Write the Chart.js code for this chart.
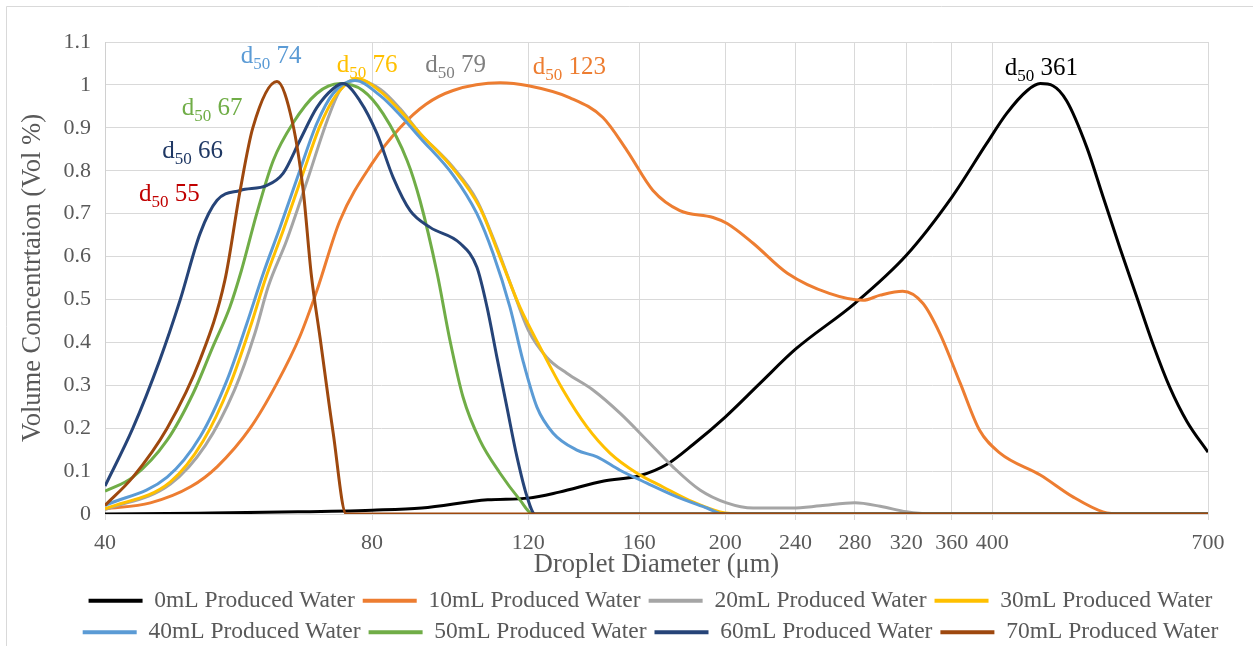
<!DOCTYPE html>
<html>
<head>
<meta charset="utf-8">
<script src="https://cdn.jsdelivr.net/npm/chart.js@4.4.1/dist/chart.umd.min.js"></script>
<style>
  html, body { margin: 0; padding: 0; background: #fff; }
</style>
</head>
<body>
<canvas id="chart" width="1253" height="646"></canvas>
<script>
// Fuente tipo Times (como en Excel)
const SERIF = '"Liberation Serif", "Times New Roman", serif';

// Series: [diametro (um), concentracion (Vol %)]
const seriesNames = ['0mL Produced Water', '10mL Produced Water', '20mL Produced Water', '30mL Produced Water',
                     '40mL Produced Water', '50mL Produced Water', '60mL Produced Water', '70mL Produced Water'];
const seriesColors = ['#000000', '#ED7D31', '#A5A5A5', '#FFC000', '#5B9BD5', '#70AD47', '#264478', '#9E480E'];

const water0 = [[40,0],[51,0.002],[66,0.005],[80,0.009],[91,0.014],[108,0.033],[120,0.037],[130,0.051],[146,0.077],
  [160,0.089],[172,0.116],[184,0.162],[200,0.226],[219,0.305],[240,0.384],[280,0.491],[320,0.603],[360,0.738],
  [394,0.863],[415,0.933],[438,0.987],[453,1.003],[468,0.998],[485,0.963],[511,0.855],[533,0.74],[557,0.62],
  [582,0.505],[607,0.395],[634,0.295],[663,0.215],[700,0.144]];
const water10 = [[40,0.012],[45,0.026],[50,0.064],[53.5,0.11],[58.3,0.2],[62.5,0.305],[66.3,0.413],[69.3,0.52],
  [73.6,0.684],[80,0.817],[86,0.9],[92,0.955],[98.7,0.987],[111.5,1.005],[120,0.998],[133.7,0.97],[145.6,0.924],
  [155,0.847],[165.8,0.754],[177.8,0.707],[193.8,0.691],[201,0.677],[215,0.631],[235,0.561],[262,0.514],[286,0.498],
  [299,0.51],[317,0.519],[334,0.491],[349,0.421],[368,0.305],[387,0.195],[408,0.142],[453,0.091],[493,0.04],
  [533,0.005],[560,0],[700,0]];
const water20 = [[40,0.01],[47.4,0.07],[51.9,0.16],[56,0.29],[59,0.42],[61.1,0.53],[64.1,0.638],[67.6,0.777],
  [71.2,0.917],[73.6,0.987],[76.9,1.012],[81.7,0.99],[86,0.945],[90.6,0.887],[98.7,0.808],[105,0.731],[110.6,0.621],
  [115.3,0.521],[120,0.428],[125.9,0.365],[132.6,0.328],[141.9,0.289],[152.2,0.235],[163.2,0.172],[174.6,0.11],
  [187.3,0.056],[200.7,0.026],[215,0.014],[238,0.014],[256,0.019],[280,0.026],[299,0.018],[320,0.005],[340,0],[700,0]];
const water30 = [[40,0.012],[47.4,0.075],[51.6,0.17],[55.3,0.3],[58.3,0.435],[60.7,0.55],[63.5,0.66],[66.9,0.795],
  [69.9,0.905],[72.8,0.975],[76.9,1.015],[81.7,0.985],[86,0.94],[90.6,0.887],[98.7,0.805],[105.8,0.714],[111.5,0.598],
  [117.4,0.482],[123.7,0.389],[131.3,0.289],[139.7,0.203],[148.3,0.142],[159.1,0.095],[170.2,0.063],[183.9,0.028],
  [197.3,0.005],[210,0],[700,0]];
const water40 = [[40,0.02],[47,0.086],[51.2,0.18],[54.9,0.312],[57.8,0.444],[60.3,0.56],[63,0.668],[66.3,0.8],
  [69.3,0.91],[72.3,0.98],[76.5,1.01],[81.7,0.975],[86,0.93],[90.6,0.877],[98.7,0.79],[105,0.7],[109.5,0.607],
  [114.4,0.482],[118.3,0.358],[122.7,0.249],[127.9,0.189],[136.1,0.149],[143.4,0.133],[152.2,0.102],[163.2,0.072],
  [176.5,0.04],[190.7,0.014],[198.8,0],[220,0],[700,0]];
const water50 = [[40,0.053],[43,0.086],[47,0.172],[50.3,0.282],[52.9,0.389],[55.3,0.482],[57,0.568],[59.3,0.7],
  [61.9,0.824],[65.1,0.91],[69.3,0.98],[73.6,1.003],[78.1,0.987],[82.3,0.933],[87.6,0.824],[90.6,0.73],[94.7,0.561],
  [97.9,0.405],[101.3,0.272],[105.8,0.172],[111.5,0.095],[117.4,0.033],[121.4,0],[140,0],[700,0]];
const water60 = [[40,0.065],[43,0.2],[46.1,0.358],[48.6,0.498],[51.2,0.654],[53.5,0.731],[56.8,0.754],[60.9,0.766],
  [63.5,0.794],[66.3,0.87],[69.3,0.947],[72.3,0.991],[74.2,1.003],[77.5,0.963],[81,0.887],[84.5,0.784],[88.3,0.707],
  [93,0.668],[100.5,0.631],[105,0.575],[107.8,0.482],[110.6,0.365],[113.5,0.249],[116.5,0.133],[119.6,0.04],
  [122.1,0],[140,0],[700,0]];
const water70 = [[40,0.02],[43,0.086],[47,0.2],[51.2,0.36],[54.6,0.545],[56.8,0.754],[58.7,0.9],[62.5,1.008],
  [65.1,0.91],[66.9,0.754],[68.3,0.56],[69.9,0.41],[72.3,0.19],[74.8,0],[86,0],[700,0]];

const allSeries = [water0, water10, water20, water30, water40, water50, water60, water70];

// Marcas del eje X
const xTicks = [40, 80, 120, 160, 200, 240, 280, 320, 360, 400, 700];

// Etiquetas d50: valor, color, ancla [diametro, concentracion]
const d50Values = ['74', '76', '79', '123', '361', '67', '66', '55'];
const d50Colors = ['#5B9BD5', '#FFC000', '#7F7F7F', '#ED7D31', '#000000', '#70AD47', '#1F3864', '#C00000'];
const d50Anchors = [[56.9,1.05],[73.0,1.029],[91.8,1.029],[121.4,1.026],[413,1.022],[48.8,0.931],[46.4,0.83],[43.7,0.729]];

// Fondo blanco y marco gris
const framePlugin = {
    id: 'frame',
    beforeDraw(chart) {
        const ctx = chart.ctx;
        ctx.save();
        ctx.fillStyle = '#ffffff';
        ctx.fillRect(0, 0, chart.width, chart.height);
        ctx.strokeStyle = '#d9d9d9';
        ctx.lineWidth = 1;
        ctx.beginPath();
        ctx.moveTo(6.5, chart.height);
        ctx.lineTo(6.5, 6.5);
        ctx.lineTo(chart.width, 6.5);
        ctx.stroke();
        ctx.restore();
    }
};

// Textos d50 con subindice
const d50Plugin = {
    id: 'd50',
    afterDatasetsDraw(chart) {
        const { ctx, scales: { x, y } } = chart;
        ctx.save();
        ctx.textAlign = 'left';
        ctx.textBaseline = 'alphabetic';
        d50Values.forEach((val, i) => {
            let px = x.getPixelForValue(d50Anchors[i][0]);
            const py = y.getPixelForValue(d50Anchors[i][1]);
            ctx.fillStyle = d50Colors[i];
            ctx.font = '25px ' + SERIF;
            ctx.fillText('d', px, py);
            px += ctx.measureText('d').width;
            ctx.font = '17px ' + SERIF;
            ctx.fillText('50', px, py + 6);
            px += ctx.measureText('50').width;
            ctx.font = '25px ' + SERIF;
            ctx.fillText(' ' + val, px, py);
        });
        ctx.restore();
    }
};

new Chart(document.getElementById('chart'), {
    type: 'line',
    data: {
        datasets: allSeries.map((pts, i) => ({
            label: seriesNames[i],
            data: pts.map(p => ({ x: p[0], y: p[1] })),
            xAxisID: 'x',
            yAxisID: 'y',
            borderColor: seriesColors[i],
            backgroundColor: seriesColors[i],
            borderWidth: 3,
            pointRadius: 0,
            cubicInterpolationMode: 'monotone',
            fill: false,
            order: allSeries.length - i
        }))
    },
    options: {
        responsive: false,
        animation: false,
        events: [],
        layout: { padding: { left: 48, right: 0, top: 42, bottom: -8 } },
        plugins: {
            tooltip: { enabled: false },
            legend: {
                position: 'bottom',
                labels: {
                    font: { family: SERIF, size: 23.5 },
                    color: '#595959',
                    boxWidth: 54,
                    boxHeight: 4,
                    padding: 8,
                    sort: (a, b) => a.datasetIndex - b.datasetIndex,
                    generateLabels(chart) {
                        const items = Chart.defaults.plugins.legend.labels.generateLabels(chart);
                        items.forEach(it => { it.lineWidth = 0; it.fillStyle = it.strokeStyle; });
                        return items;
                    }
                }
            }
        },
        scales: {
            x: {
                type: 'logarithmic',
                min: 40,
                max: 700,
                bounds: 'data',
                afterBuildTicks: s => { s.ticks = xTicks.map(v => ({ value: v })); },
                afterFit: s => { s.height = 67; },
                grid: { color: '#d9d9d9', tickLength: 6, drawTicks: true },
                border: { color: '#d9d9d9' },
                ticks: {
                    autoSkip: false, maxRotation: 0, minRotation: 0, padding: 10,
                    color: '#595959', font: { family: SERIF, size: 22 },
                    callback: v => String(v)
                },
                title: {
                    display: true, text: 'Droplet Diameter (μm)', color: '#595959',
                    font: { family: SERIF, size: 26.5 }, padding: { top: 0, bottom: 0 }
                }
            },
            y: {
                min: 0,
                max: 1.1,
                afterFit: s => { s.width = 57; },
                grid: { color: '#d9d9d9', drawTicks: false },
                border: { color: '#d0d0d0' },
                ticks: {
                    stepSize: 0.1, padding: 14, color: '#595959', font: { family: SERIF, size: 22 },
                    callback: v => String(Math.round(v * 10) / 10)
                },
                title: {
                    display: true, text: 'Volume Concentrtaion (Vol %)', color: '#595959',
                    font: { family: SERIF, size: 26.5 }, padding: { top: -31, bottom: 0 }
                }
            },
            yRight: {
                position: 'right',
                grid: { display: false },
                border: { display: false },
                ticks: { display: false },
                afterFit: s => { s.width = 45; }
            }
        }
    },
    plugins: [framePlugin, d50Plugin]
});
</script>
</body>
</html>
